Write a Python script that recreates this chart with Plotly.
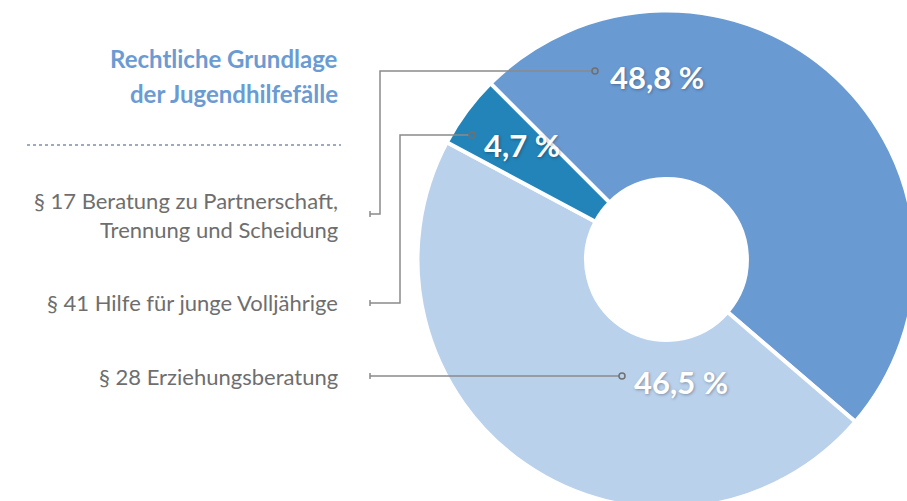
import plotly.graph_objects as go

# ---- data ----
categories = ["§ 17 Beratung zu Partnerschaft, Trennung und Scheidung",
              "§ 28 Erziehungsberatung",
              "§ 41 Hilfe für junge Volljährige"]
values = [48.8, 46.5, 4.7]
value_labels = ["48,8 %", "46,5 %", "4,7 %"]
slice_colors = ["#6a9ad2", "#bad1ec", "#2284b8"]

title_lines = ["Rechtliche Grundlage", "der Jugendhilfefälle"]
legend_lines = [["§ 17 Beratung zu Partnerschaft,", "Trennung und Scheidung"],
                ["§ 28 Erziehungsberatung"],
                ["§ 41 Hilfe für junge Volljährige"]]

# ---- layout geometry (pixels) ----
W, H = 940, 520
cx, cy, r = 666.5, 259.5, 249
FONT = "Lato"
GREY_TXT = "#6e6e6e"
LINE = "#8a8a8a"

fig = go.Figure()
fig.add_trace(go.Pie(
    values=values, labels=categories, sort=False, direction="clockwise",
    rotation=-45, hole=0.323, textinfo="none", hoverinfo="label+percent",
    marker=dict(colors=slice_colors, line=dict(color="white", width=4)),
    domain=dict(x=[(cx - r) / W, (cx + r) / W], y=[1 - (cy + r) / H, 1 - (cy - r) / H]),
    showlegend=False,
))

# invisible pixel axes for placing annotations/lines
fig.add_trace(go.Scatter(x=[0, W], y=[0, H], mode="markers", marker=dict(opacity=0),
                         hoverinfo="skip", showlegend=False))

annotations = []
# title
for txt, y in zip(title_lines, [58, 93]):
    annotations.append(dict(x=340, y=y, text=txt, xanchor="right", yanchor="middle",
                            showarrow=False, font=dict(family=FONT, size=24, color="#6b9bd3", weight="bold")))
# legend text
legend_y = [[200, 229], [376], [302]]
for lines, ys in zip(legend_lines, legend_y):
    for txt, y in zip(lines, ys):
        annotations.append(dict(x=340, y=y, text=txt, xanchor="right", yanchor="middle",
                                showarrow=False, font=dict(family=FONT, size=22, color=GREY_TXT)))
# value labels
value_pos = [(657, 77), (681, 382), (522, 144.5)]
for txt, (x, y) in zip(value_labels, value_pos):
    annotations.append(dict(x=x, y=y, text=txt, xanchor="center", yanchor="middle", showarrow=False,
                            font=dict(family=FONT, size=31, color="white", weight="bold",
                                      shadow="1px 1px 3px rgba(0,0,0,0.30)")))

shapes = []
# dotted separator
shapes.append(dict(type="line", x0=27, x1=341, y0=145, y1=145, xref="x", yref="y",
                   line=dict(color="#7f8fa8", width=1.5, dash="dot"), layer="above"))
# leader lines: (stub y, vertical x, end x, end y)
leaders = [(214, 380, 595, 71), (376, None, 622, 375.5), (303, 400, 472, 135)]
for sy, vx, ex, ey in leaders:
    if vx is None:
        path = f"M370,{sy} L{ex-3},{sy}"
        ey = sy
    else:
        path = f"M370,{sy} L{vx},{sy} L{vx},{ey} L{ex-3},{ey}"
    shapes.append(dict(type="path", path=path, xref="x", yref="y",
                       line=dict(color=LINE, width=1.5), layer="above"))
    shapes.append(dict(type="line", x0=370, x1=370, y0=sy - 3, y1=sy + 3, xref="x", yref="y",
                       line=dict(color=LINE, width=1.5), layer="above"))
    shapes.append(dict(type="circle", x0=ex - 3, x1=ex + 3, y0=ey - 3, y1=ey + 3, xref="x", yref="y",
                       line=dict(color="#707070", width=1.5), fillcolor="rgba(0,0,0,0)", layer="above"))

fig.update_layout(
    width=W, height=H, margin=dict(l=0, r=0, t=0, b=0),
    paper_bgcolor="white", plot_bgcolor="rgba(0,0,0,0)",
    xaxis=dict(range=[0, W], visible=False, fixedrange=True),
    yaxis=dict(range=[H, 0], visible=False, fixedrange=True),
    annotations=annotations, shapes=shapes,
)

fig.write_html("out.html",
               post_script="document.documentElement.style.overflow='hidden';document.body.style.overflow='hidden';document.body.style.margin='0';")
